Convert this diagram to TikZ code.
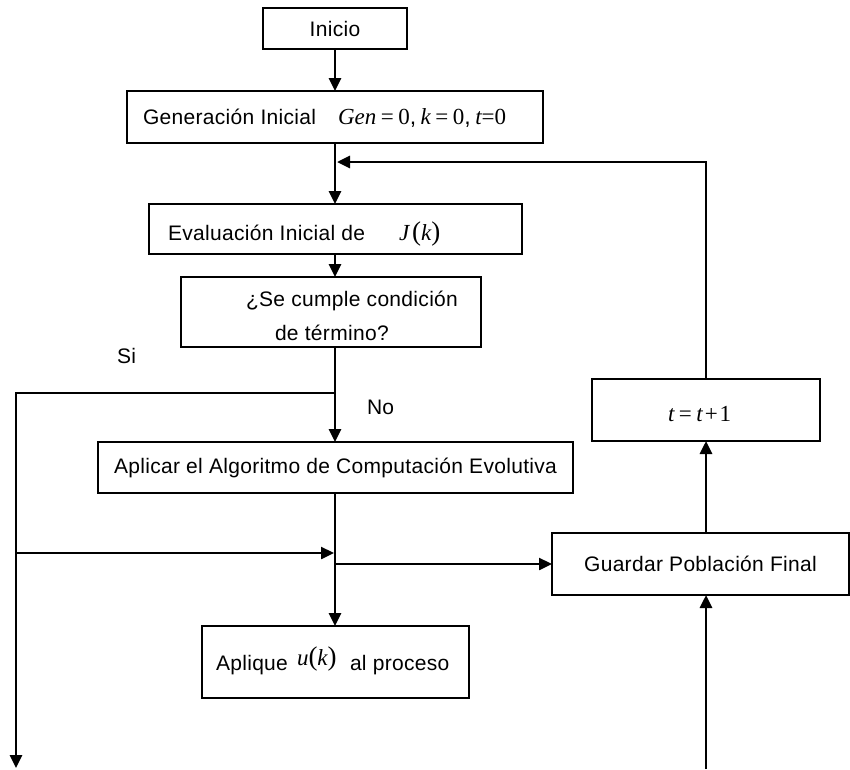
\documentclass[tikz,border=0pt]{standalone}
\usepackage{fontspec}
\setmainfont[LetterSpace=1.5]{Liberation Sans}
\newfontfamily\tms{Liberation Serif}
\usetikzlibrary{arrows.meta}
% italic and upright serif pieces for the formulas
\newcommand\mi[1]{{\tms\itshape #1}}
\newcommand\mr[1]{{\tms #1}}
\newcommand\gap{\hspace{4.5pt}}
\newcommand\bigpar[1]{{\tms\fontsize{27}{28}\selectfont #1}}
\begin{document}
\begin{tikzpicture}[x=1pt,y=-1pt,
  box/.style={draw, line width=1.2pt, inner sep=0pt, outer sep=0pt, font=\fontsize{21}{25}\selectfont},
  lbl/.style={inner sep=0pt, outer sep=0pt, anchor=base west, font=\fontsize{21}{25}\selectfont},
  mth/.style={inner sep=0pt, outer sep=0pt, anchor=base west, font=\fontsize{23}{27}\selectfont},
  flow/.style={line width=2.9pt, line join=miter, -{Triangle[length=13pt,width=12pt]}},
  flowthin/.style={line width=2.4pt, -{Triangle[length=13pt,width=12pt]}}
]
\useasboundingbox (0,0) rectangle (850,769);

% boxes
\node[box, minimum width=144pt, minimum height=41pt] (inicio) at (335,28.5) {Inicio};
\node[box, minimum width=416pt, minimum height=52pt] (gen) at (335,117) {};
\node[box, minimum width=373pt, minimum height=50pt] (eval) at (335.5,229) {};
\node[box, minimum width=300pt, minimum height=70pt] (cumple) at (331,312) {};
\node[box, minimum width=475pt, minimum height=51pt] (aplicar) at (335.5,467.5) {Aplicar el Algoritmo de Computación Evolutiva};
\node[box, minimum width=267pt, minimum height=72pt] (aplique) at (335.5,662) {};
\node[box, minimum width=297pt, minimum height=62pt] (guardar) at (700.5,564) {Guardar Población Final};
\node[box, minimum width=228pt, minimum height=62pt] (tbox) at (706,410) {};

% texts inside the boxes
\node[lbl] (genA) at (143,124.5) {Generación Inicial};
\node[mth] (genB) at (338,124.5) {\mi{Gen}\gap\mr{=}\gap\mr{0},\gap\mi{k}\gap\mr{=}\gap\mr{0},\gap\mi{t}\mr{=}\mr{0}};
\node[lbl] (evalA) at (168,240.5) {Evaluación Inicial de};
\node[mth] (evalB) at (399,240.5) {\mi{J}\hspace{3pt}\bigpar{(}\mi{k}\bigpar{)}};
\node[lbl] (cumA) at (246,306.5) {¿Se cumple condición};
\node[lbl] (cumB) at (275,340.5) {de término?};
\node[lbl] (apA) at (216,670.5) {Aplique};
\node[mth] (apB) at (297,665) {\mi{u}\bigpar{(}\mi{k}\bigpar{)}};
\node[lbl] (apC) at (350,670.5) {al proceso};
\node[mth] (tA) at (668,421.5) {\mi{t}\gap\mr{=}\gap\mi{t}\hspace{2pt}\mr{+}\hspace{2pt}\mr{1}};

% branch labels
\node[lbl] (si) at (117,363) {Si};
\node[lbl] (no) at (367,414) {No};

% junction points
\coordinate (split) at (335,393);
\coordinate (leftTop) at (16,393);
\coordinate (leftEnd) at (16,768);
\coordinate (leftMid) at (16,553);
\coordinate (trunkMid) at (334,553);
\coordinate (trunkOut) at (335,564);
\coordinate (bottomIn) at (706,769);
\coordinate (loopCorner) at (706,162);
\coordinate (loopEnd) at (337,162);

% main flow
\draw[flow] (inicio) -- (gen);
\draw[flow] (gen.south) -- (gen.south |- eval.north);
\draw[flow] (gen.south |- eval.south) -- (gen.south |- cumple.north);
\draw[flow] (gen.south |- cumple.south) -- (gen.south |- aplicar.north);
\draw[flow] (gen.south |- aplicar.south) -- (gen.south |- aplique.north);

% exit branch on the left
\draw[flow] (split) -- (leftTop) -- (leftEnd);
\draw[flowthin] (leftMid) -- (trunkMid);

% saving and loop back
\draw[flowthin] (trunkOut) -- (guardar.west);
\draw[flow] (tbox.south |- guardar.north) -- (tbox.south);
\draw[flow] (bottomIn) -- (bottomIn |- guardar.south);
\draw[flow] (tbox.north) -- (loopCorner) -- (loopEnd);
\end{tikzpicture}
\end{document}
